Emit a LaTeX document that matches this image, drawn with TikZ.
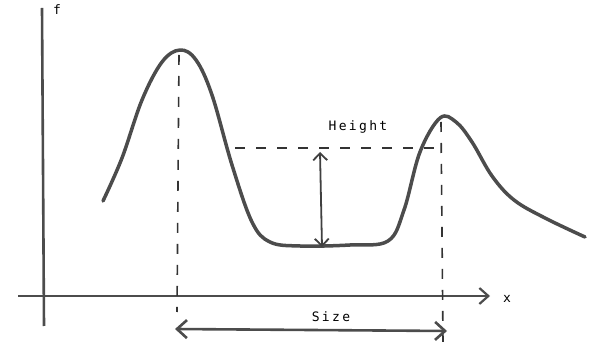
\documentclass[tikz,border=0pt]{standalone}
\usepackage{fontspec}
\setmonofont[LetterSpace=18]{DejaVu Sans Mono}
\usetikzlibrary{arrows.meta,positioning}

\begin{document}
\begin{tikzpicture}[x=1pt,y=-1pt,
  pen/.style={draw=black!70,line width=3.5pt,line cap=round,line join=round},
  axis/.style={draw=black!70,line width=2.6pt},
  guide/.style={draw=black!80,line width=1.6pt,dash pattern=on 10pt off 11pt},
  tip/.style={-{Straight Barb[length=9pt,width=16pt,line width=2.2pt]}},
  label/.style={font=\ttfamily\fontsize{13}{15}\selectfont,inner sep=1pt}
]
\useasboundingbox (0,0) rectangle (589,344);

% axes
\coordinate (ytop) at (42,8);
\coordinate (ybot) at (44,326);
\coordinate (xleft) at (18,296);
\coordinate (xright) at (490,296);
\draw[axis] (ybot) -- (ytop);
\draw[axis,tip] (xleft) -- (xright);
\node[label] (f) at (57,10) {f};
\node[label] (x) at (507,299) {x};

% the curve
\draw[pen] plot[smooth,tension=0.6] coordinates {
  (103,201) (122,158) (142,100) (162,62) (180,50) (196,60) (212,95)
  (232,165) (252,222) (270,242) (300,246) (350,245) (388,241)
  (404,210) (420,152) (440,118) (456,122) (472,142) (492,176)
  (514,200) (545,218) (585,237)};

% guides
\coordinate (peakA) at (179,55);
\coordinate (footA) at (177,312);
\coordinate (peakB) at (441,122);
\coordinate (footB) at (443,342);
\coordinate (hleft) at (235,148);
\coordinate (hright) at (438,148);
\draw[guide] (peakA) -- (footA);
\draw[guide] (peakB) -- (footB);
\draw[guide] (hleft) -- (hright);

% height
\coordinate (htop) at (320,152);
\coordinate (hbot) at (322,247);
\draw[draw=black!75,line width=1.8pt,{Straight Barb[length=7pt,width=14pt,line width=1.8pt]}-{Straight Barb[length=7pt,width=14pt,line width=1.8pt]}] (htop) -- (hbot);
\node[label] (height) at (358,127) {Height};

% size
\coordinate (sleft) at (175,329);
\coordinate (sright) at (447,331);
\draw[axis,{Straight Barb[length=10pt,width=18pt,line width=2.6pt]}-{Straight Barb[length=10pt,width=18pt,line width=2.6pt]}] (sleft) -- (sright);
\node[label] (size) at (331,317) {Size};
\end{tikzpicture}
\end{document}
